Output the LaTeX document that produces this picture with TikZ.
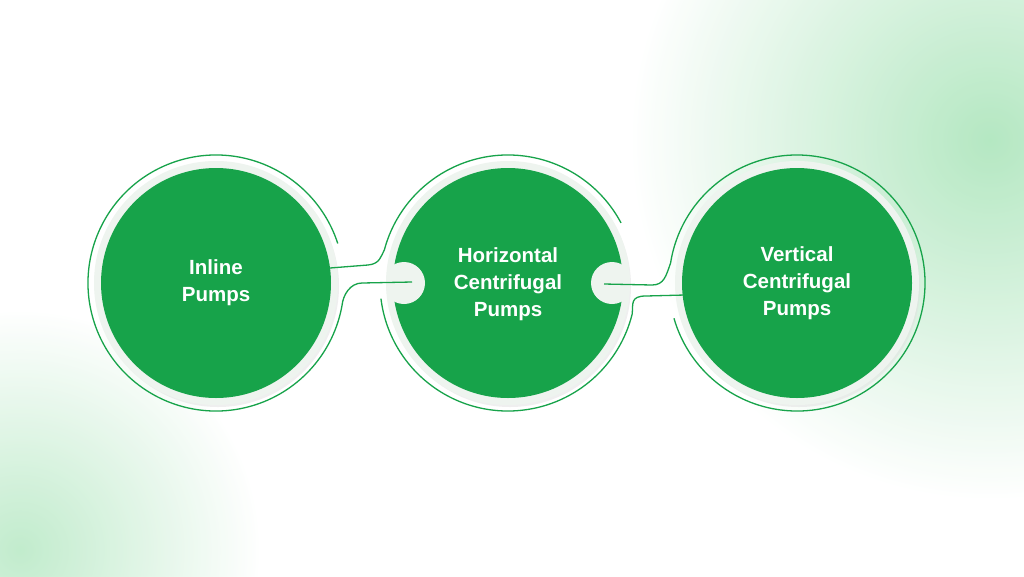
\documentclass[tikz,border=0pt]{standalone}
\usepackage{fontspec}
\setmainfont{Liberation Sans}
\begin{document}
\begin{tikzpicture}[x=1pt,y=-1pt,
  ring/.style={draw=pgreen,line width=1.3pt},
  tx/.style={text=white,font=\bfseries\fontsize{20.5}{27}\selectfont,align=center},
  bub/.style={circle,fill=pgreen,minimum size=230pt,inner sep=0pt,tx},
  halo/.style={circle,fill=haloc,minimum size=244pt,inner sep=0pt},
  notch/.style={circle,fill=haloc,minimum size=42pt,inner sep=0pt}]
\definecolor{pgreen}{HTML}{17A34A}
\definecolor{haloc}{HTML}{EEF4EF}
\definecolor{blob}{HTML}{A8E4B8}
\useasboundingbox (0,0) rectangle (1024,576);
\fill[white] (0,0) rectangle (1024,576);
\begin{scope}
\clip (0,0) rectangle (1024,576);
\shade[inner color=blob,outer color=white,opacity=0.85] (990,140) circle (360);
\shade[inner color=blob,outer color=white,opacity=0.7] (20,550) circle (240);
\end{scope}
\foreach \n/\x in {a/216,b/508,c/797}{
  \fill[black!12,opacity=0.5] (\x+2,286) circle (121);
  \node[halo] (h\n) at (\x,283) {};
}
\node[bub] (a) at (216,283) {Inline\\Pumps};
\node[bub] (b) at (508,283) {};
\node[bub] (c) at (797,283) {Vertical\\Centrifugal\\Pumps};
\begin{scope}
\clip (508,283) circle (121);
\node[notch] (nl) at (404,283) {};
\node[notch] (nr) at (612,283) {};
\end{scope}
\node[tx] (bt) at (508,284) {Horizontal\\Centrifugal\\Pumps};
% ring 1
\draw[ring] ([shift={(-18:128)}]a.center) arc[start angle=-18,end angle=-350,radius=128]
  .. controls +(1,-10) and (350,283) .. (362,283) -- (412,282);
% ring 2
\draw[ring] (330,268) -- (368,265) .. controls (380,264) and (381,256) .. ([shift={(-165:128)}]b.center)
  arc[start angle=-165,end angle=-28,radius=128];
\draw[ring] ([shift={(-187:128)}]b.center) arc[start angle=-187,end angle=-346,radius=128]
  .. controls +(1,-10) and (630,296) .. (646,296) -- (685,295);
% ring 3
\draw[ring] (604,284) -- (652,285) .. controls (664,285) and (666,276) .. ([shift={(-171:128)}]c.center)
  arc[start angle=-171,end angle=164,radius=128];
\end{tikzpicture}
\end{document}
